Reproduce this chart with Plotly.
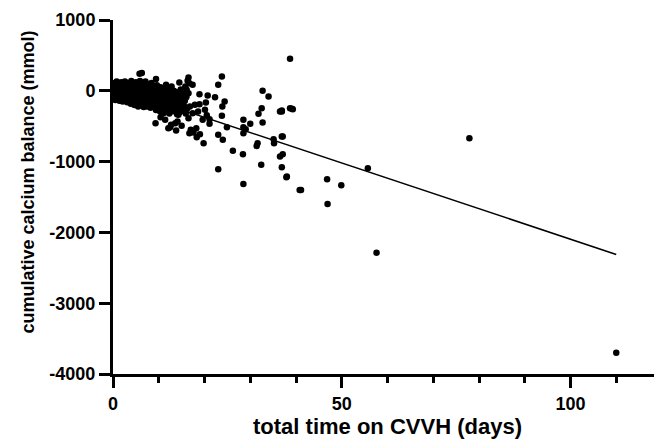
import plotly.graph_objects as go

# total time on CVVH (days) and cumulative calcium balance (mmol)
days = [
    # dense cluster, first days
    0.1, 0.2, 0.2, 0.3, 0.4, 0.5, 0.5, 0.6, 0.7, 0.8, 0.9, 1.0, 1.0, 1.1, 1.2, 1.3, 1.4, 1.5,
    1.6, 1.7, 1.8, 1.9, 2.0, 2.1, 2.2, 2.3, 2.4, 2.5, 2.6, 2.7, 2.8, 2.9, 3.0, 3.1, 3.2, 3.3,
    3.4, 3.5, 3.6, 3.7, 3.8, 3.9, 4.0, 4.1, 4.2,
    4.3, 4.4, 4.5, 4.6, 4.7, 4.8, 4.9, 5.0, 5.1, 5.2, 5.3, 5.4, 5.5, 5.6, 5.7, 5.8, 5.9, 6.0,
    6.1, 6.2, 6.3, 6.4, 6.5, 6.6, 6.7, 6.8, 6.9, 7.0, 7.1, 7.2, 7.3, 7.4, 7.5, 7.6, 7.7, 7.8,
    7.9, 8.0, 8.1, 8.2, 8.3, 8.4, 8.5, 8.6, 8.7, 8.8, 8.9,
    9.0, 9.1, 9.2, 9.3, 9.4, 9.5, 9.6, 9.7, 9.8, 9.9, 10.0, 10.1, 10.2, 10.3, 10.4, 10.5, 10.6,
    10.7, 10.8, 10.9, 11.0, 11.1, 11.2, 11.3, 11.5, 11.6, 11.7, 11.8, 12.0, 12.1, 12.2, 12.3,
    12.4, 12.6, 12.7, 12.8, 12.9, 13.0, 13.2, 13.3, 13.4, 13.5, 13.7, 13.8, 14.0, 14.1, 14.2,
    14.4, 14.5, 14.6, 14.8, 14.9, 15.0, 15.2, 15.3, 15.5, 15.7, 15.9, 16.0, 16.2,
    # scattered points
    38.7, 23.8, 32.7, 34.0, 23.0, 24.4, 23.9, 22.3, 32.5, 31.8, 36.5, 36.9, 38.7, 39.1, 28.5,
    32.7, 23.8, 24.9, 28.5, 29.0, 30.0, 28.5, 31.4, 31.6, 35.1, 36.9, 35.2, 36.5, 37.1, 32.4,
    36.9, 38.0, 40.8, 28.4, 26.2, 28.5, 23.0, 19.8, 23.0, 24.0, 19.0, 18.2, 21.1, 19.6, 21.1,
    20.5, 18.6, 20.1, 18.9, 20.7, 18.9, 20.3, 16.8, 17.9, 16.7, 16.5, 14.5, 15.8, 17.4, 16.5,
    16.0, 17.4, 16.5, 14.3, 13.6, 15.0, 17.0, 18.3, 17.6, 16.7, 13.8, 12.5, 12.1, 12.7, 11.4,
    10.4, 11.0, 14.1, 14.7, 15.2, 13.2, 15.4, 14.1, 16.3, 14.9, 16.1, 9.3, 9.9, 8.8, 10.3,
    11.2, 12.1, 12.8, 11.6, 9.4, 6.3, 5.8, 8.2, 4.4, 7.0, 7.4, 5.2, 3.9, 1.7, 6.6, 8.1, 9.2,
    9.9, 10.6, 5.9,
    36.9, 39.3, 37.1, 37.9, 41.1, 46.8, 49.9, 46.9, 55.7, 57.6, 77.9, 110.0,
]
balance = [
    10, -40, 60, -90, 110, 0, -130, 50, -60, 130, -20, 80, -110, 30, -70, 100, -140, 10,
    60, -40, 120, -100, 20, -150, 80, -20, 40, -80, 130, -120, 0, 70, -50, -160, 110, 20,
    -90, 60, -130, -10, 90, -60, 140, -170, 30,
    -30, 80, -120, 0, -200, 50, -80, 120, -150, 20, -50, 90, -220, -10, 60, -110, 140, -180,
    30, -70, 100, -140, -20, 40, -230, -90, 70, -40, 130, -160, 10, -110, 60, -200, -60, 90,
    -10, -140, 40, -240, -80, 110, -30, -170, 20, -110, 70,
    -50, -200, 30, -130, -270, -20, 80, -170, -90, -250, 10, -140, -60, -220, 50, -110, -300,
    -30, -180, 20, -250, -90, -150, 40, -210, -40, -280, -120, 10, -190, -70, -320,
    -140, 30, -230, -100, -40, -290, -170, 0, -110, -260, -60, -200, -330, -20, -150,
    -240, -90, -300, 20, -190, -120, -280, -50, -210, -140, -320, -80, -250,
    452, 203, 0, -80, 85, -151, -222, -90, -245, -325, -292, -278, -245, -255, -410,
    -448, -353, -514, -514, -542, -467, -599, -778, -740, -683, -646, -740, -928, -895, -1046,
    -1079, -1211, -1400, -895, -848, -1315, -1108, -740, -622, -693, -613, -528, -467, -410, -401,
    -344, -292, -269, -189, -66, -47, -165, -222, -198, 108, 189, 118, 61, 85, -33,
    -90, -316, -386, -339, -457, -495, -551, -655, -589, -599, -561, -514, -528, -481, -410,
    -372, -316, -434, -269, -245, -198, -151, -127, 141, -33, 14, -457, -174, -222, -292,
    -80, 5, 61, 85, 165, 250, 240, 52, 108, -127, -222, -118, -184, -127, -198, -174, -104,
    -33, 24, -33,
    -292, -259, -646, -1221, -1400, -1249, -1334, -1598, -1093, -2286, -669, -3700,
]

# linear regression line, end points
fit_days = [0.1, 110.0]
fit_balance = [54, -2311]

y_ticks = [-4000, -3000, -2000, -1000, 0, 1000]
y_ticklabels = ["-4000", "-3000", "-2000", "-1000", "0", "1000"]

font_family = "Liberation Sans, Arial, sans-serif"

fig = go.Figure()
fig.add_trace(go.Scatter(
    x=fit_days, y=fit_balance, mode="lines",
    line=dict(color="black", width=1.5),
    hoverinfo="skip",
))
fig.add_trace(go.Scatter(
    x=days, y=balance, mode="markers",
    marker=dict(color="black", size=6.5, line_width=0),
    cliponaxis=False,
))

# the page body has an 8px margin, so the figure is a bit smaller than the window
fig.update_layout(
    width=654, height=436,
    margin=dict(l=105, r=0, t=12, b=70),
    plot_bgcolor="white", paper_bgcolor="white",
    showlegend=False,
    font=dict(family=font_family, color="black"),
)
fig.update_xaxes(
    range=[0, 120], tick0=0, dtick=50,
    showgrid=False, zeroline=False,
    showline=True, linecolor="black", linewidth=3,
    ticks="outside", ticklen=11, tickwidth=3, tickcolor="black",
    minor=dict(tick0=0, dtick=10, ticks="outside", ticklen=6, tickwidth=3, tickcolor="black", showgrid=False),
    tickfont=dict(size=18, weight="bold"),
    ticklabelstandoff=0,
    title=dict(text="total time on CVVH (days)", font=dict(size=22, weight="bold"), standoff=3),
)
fig.update_yaxes(
    range=[-4000, 1000], tickvals=y_ticks, ticktext=y_ticklabels,
    showgrid=False, zeroline=False,
    showline=True, linecolor="black", linewidth=3,
    ticks="outside", ticklen=11, tickwidth=3, tickcolor="black",
    tickfont=dict(size=18, weight="bold"),
)
fig.add_annotation(
    text="<b>cumulative calcium balance (mmol)</b>", textangle=-90,
    xref="paper", x=0, xshift=-85, xanchor="center",
    yref="paper", y=0.541, yanchor="middle",
    showarrow=False, font=dict(size=18),
)

fig.write_html("out.html")
